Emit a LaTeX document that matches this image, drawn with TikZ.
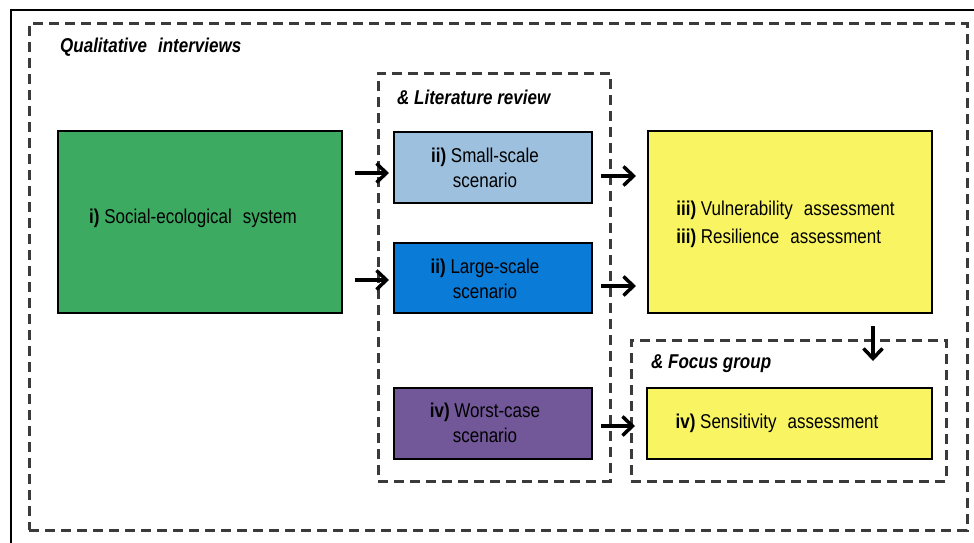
\documentclass[tikz,border=0pt]{standalone}
\usepackage{fontspec}
\setmainfont{Liberation Sans}[FakeStretch=0.85]
\usetikzlibrary{arrows.meta,calc}
\definecolor{cgreen}{HTML}{3DAA62}
\definecolor{clight}{HTML}{9DC0DE}
\definecolor{cblue}{HTML}{0A7BD6}
\definecolor{cpurple}{HTML}{725799}
\definecolor{cyellow}{HTML}{F9F562}
\definecolor{cdash}{HTML}{3A3A3A}
\newcommand{\dsp}{\hspace{0.55em}}
\begin{document}
\begin{tikzpicture}[x=1pt,y=-1pt,
  every node/.style={font=\fontsize{20}{25}\selectfont, text=black},
  box/.style={draw=black, line width=2pt, inner sep=0pt},
  txt/.style={inner sep=0pt, align=center},
  region/.style={draw=cdash, line width=3pt, dash pattern=on 10pt off 6pt, inner sep=0pt},
  rlabel/.style={font=\fontsize{20}{23}\selectfont\bfseries\itshape, anchor=west, inner sep=0pt},
  arr/.style={line width=3.5pt, -{Straight Barb[length=10pt,width=19pt]}}]
\useasboundingbox (0,0) rectangle (974,543);
\clip (0,0) rectangle (974,543);
\fill[white] (0,0) rectangle (974,543);
\draw[line width=2pt] (11,10) rectangle (990,560);
% regions
\node[region, minimum width=938pt, minimum height=506pt] (outer) at (498,277) {};
\node[region, minimum width=232pt, minimum height=408pt] (lit) at (494,277) {};
\node[region, minimum width=315pt, minimum height=141pt] (focus) at (788.5,410.5) {};
\node[rlabel] (lq) at (60,47) {Qualitative\dsp interviews};
\node[rlabel] (ll) at (397,97) {\& Literature review};
\node[rlabel] (lf) at (651,364) {\& Focus group};
% boxes
\node[box, fill=cgreen, minimum width=284pt, minimum height=182pt] (ses) at (200,222) {};
\node[box, fill=clight, minimum width=198pt, minimum height=71pt] (small) at (493,167.5) {};
\node[box, fill=cblue, minimum width=198pt, minimum height=70pt] (large) at (493,278) {};
\node[box, fill=cpurple, minimum width=198pt, minimum height=71pt] (worst) at (493,423.5) {};
\node[box, fill=cyellow, minimum width=284pt, minimum height=182pt] (vuln) at (790,222) {};
\node[box, fill=cyellow, minimum width=285pt, minimum height=71pt] (sens) at (789.5,423.5) {};
% texts
\node[txt] (tses) at (193,218) {\textbf{i)} Social-ecological\dsp system};
\node[txt] (tsmall) at (485,167.5) {\textbf{ii)} Small-scale\\scenario};
\node[txt] (tlarge) at (485,279) {\textbf{ii)} Large-scale\\scenario};
\node[txt] (tworst) at (485,423) {\textbf{iv)} Worst-case\\scenario};
\node[txt, align=left, font=\fontsize{20}{28}\selectfont] (tvuln) at (785.5,224) {\textbf{iii)} Vulnerability\dsp assessment\\\textbf{iii)} Resilience\dsp assessment};
\node[txt] (tsens) at (777,423) {\textbf{iv)} Sensitivity\dsp assessment};
% arrows
\draw[arr] ($(ses.east|-small.west)+(12,5.5)$) -- ($(small.west)+(-4,5.5)$);
\draw[arr] ($(ses.east|-large.west)+(12,2)$) -- ($(large.west)+(-4,2)$);
\draw[arr] ($(small.east)+(8,8.5)$) -- ($(vuln.west|-small.east)+(-11,8.5)$);
\draw[arr] ($(large.east)+(8,8)$) -- ($(vuln.west|-large.east)+(-11,8)$);
\draw[arr] ($(worst.east)+(8,2.5)$) -- ($(sens.west|-worst.east)+(-11,2.5)$);
\draw[arr] ($(vuln.south)+(83,12)$) -- ($(vuln.south)+(83,47)$);
\end{tikzpicture}
\end{document}
